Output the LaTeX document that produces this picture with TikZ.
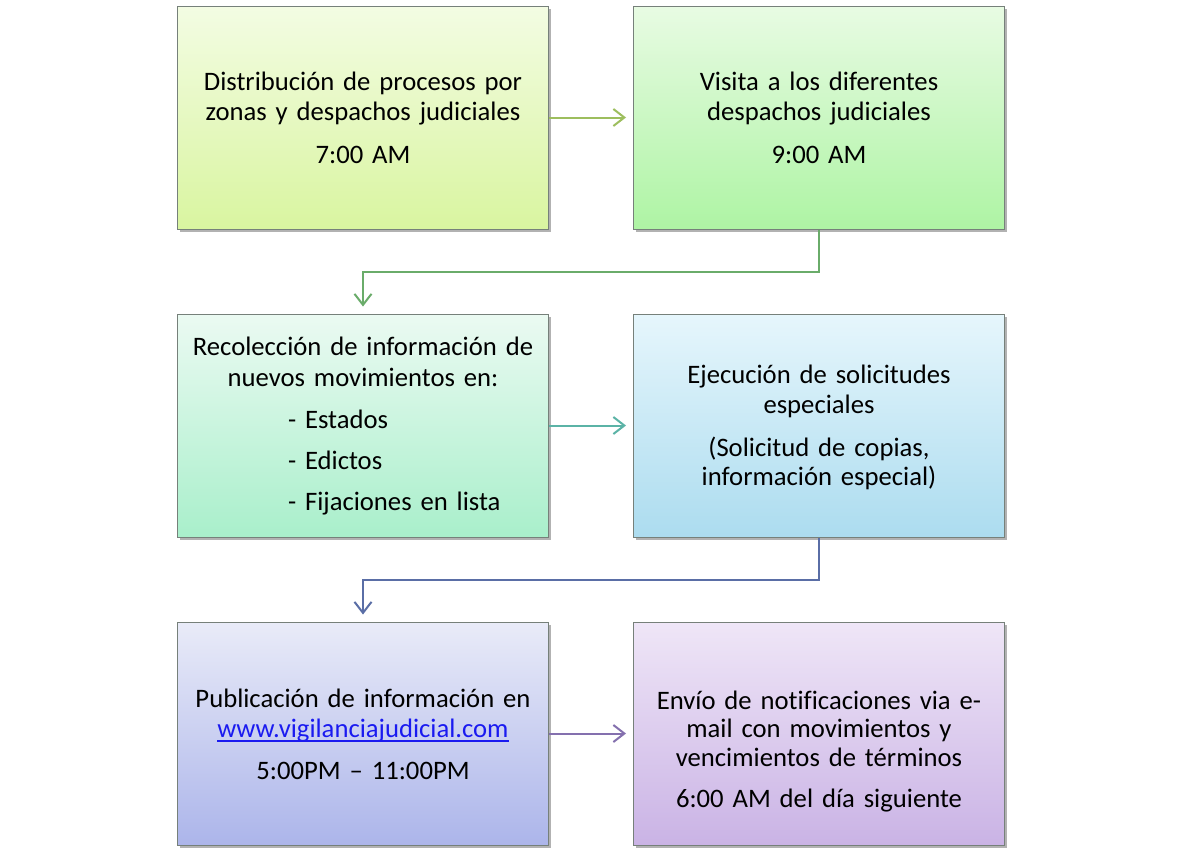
\documentclass[tikz,border=0pt]{standalone}
\usepackage{fontspec}
\setmainfont{Carlito}[Ligatures=NoCommon]
\usetikzlibrary{arrows.meta,shadows,calc}
\definecolor{c1t}{HTML}{F3FCE3}\definecolor{c1b}{HTML}{D9F5A0}
\definecolor{c2t}{HTML}{E8FBE3}\definecolor{c2b}{HTML}{AEF4A4}
\definecolor{c3t}{HTML}{EBFAF2}\definecolor{c3b}{HTML}{A9EFCB}
\definecolor{c4t}{HTML}{E6F6FC}\definecolor{c4b}{HTML}{ACDCEF}
\definecolor{c5t}{HTML}{E9EBF8}\definecolor{c5b}{HTML}{ACB5EA}
\definecolor{c6t}{HTML}{EFE6F7}\definecolor{c6b}{HTML}{CAB3E5}
\definecolor{bd}{HTML}{76807A}
\definecolor{a1}{HTML}{9DBE5E}
\definecolor{a2}{HTML}{6AAC6A}
\definecolor{a3}{HTML}{5BB3A6}
\definecolor{a4}{HTML}{5A6EA6}
\definecolor{a5}{HTML}{8470AE}
\definecolor{link}{HTML}{1A1AF0}
\newcommand\myulink[1]{\leavevmode\setbox0\hbox{#1}\rlap{\copy0}\rule[-4.5pt]{\wd0}{1.3pt}}
\tikzset{
  stepbox/.style={rectangle, draw=bd, line width=1pt, minimum width=371pt,
    minimum height=223pt, inner sep=0pt,
    drop shadow={shadow xshift=2pt, shadow yshift=-3pt, opacity=0.3, fill=black}},
  steptext/.style={anchor=base, inner sep=0pt, text width=360pt, align=center,
    font=\fontsize{26.67}{29.5}\selectfont},
  flow/.style={line width=2pt, -{Straight Barb[length=11pt,width=17pt]}, shorten >=7pt}
}
\begin{document}
\begin{tikzpicture}[x=1pt,y=-1pt]
\useasboundingbox[fill=white] (0,0) rectangle (1181,857);
% boxes
\node[stepbox, top color=c1t, bottom color=c1b] (b1) at (363,117.5) {};
\node[stepbox, top color=c2t, bottom color=c2b] (b2) at (819,117.5) {};
\node[stepbox, top color=c3t, bottom color=c3b] (b3) at (363,425.5) {};
\node[stepbox, top color=c4t, bottom color=c4b] (b4) at (819,425.5) {};
\node[stepbox, top color=c5t, bottom color=c5b] (b5) at (363,733.5) {};
\node[stepbox, top color=c6t, bottom color=c6b] (b6) at (819,733.5) {};
% texts
\node[steptext] (t1) at ($(b1.north)+(0,85)$)
  {Distribución de procesos por\\zonas y despachos judiciales\\[13.5pt]7:00 AM};
\node[steptext] (t2) at ($(b2.north)+(0,85)$)
  {Visita a los diferentes\\despachos judiciales\\[13.5pt]9:00 AM};
\node[steptext] (t3) at ($(b3.north)+(0,42)$)
  {Recolección de información de\\[1pt]nuevos movimientos en:\\[12.5pt]
   \makebox[360pt][l]{\hspace{105pt}- Estados}\\[11.5pt]
   \makebox[360pt][l]{\hspace{105pt}- Edictos}\\[11.5pt]
   \makebox[360pt][l]{\hspace{105pt}- Fijaciones en lista}};
\node[steptext] (t4) at ($(b4.north)+(0,70)$)
  {Ejecución de solicitudes\\especiales\\[13.5pt](Solicitud de copias,\\información especial)};
\node[steptext] (t5) at ($(b5.north)+(0,86)$)
  {Publicación de información en\\\textcolor{link}{\myulink{www.vigilanciajudicial.com}}\\[12.5pt]5:00PM – 11:00PM};
\node[steptext, font=\fontsize{26.67}{28.4}\selectfont] (t6) at ($(b6.north)+(0,88)$)
  {Envío de notificaciones via e-\\mail con movimientos y\\vencimientos de términos\\[13pt]6:00 AM del día siguiente};
% connectors
\coordinate (m1) at ($(b2.south)!0.5!(b4.north)$);
\coordinate (m2) at ($(b4.south)!0.5!(b6.north)$);
\draw[flow, draw=a1] (b1.east) -- (b2.west);
\draw[flow, draw=a2] (b2.south) -- (b2.south |- m1) -| (b3.north);
\draw[flow, draw=a3] (b3.east) -- (b4.west);
\draw[flow, draw=a4] (b4.south) -- (b4.south |- m2) -| (b5.north);
\draw[flow, draw=a5] (b5.east) -- (b6.west);
\end{tikzpicture}
\end{document}
